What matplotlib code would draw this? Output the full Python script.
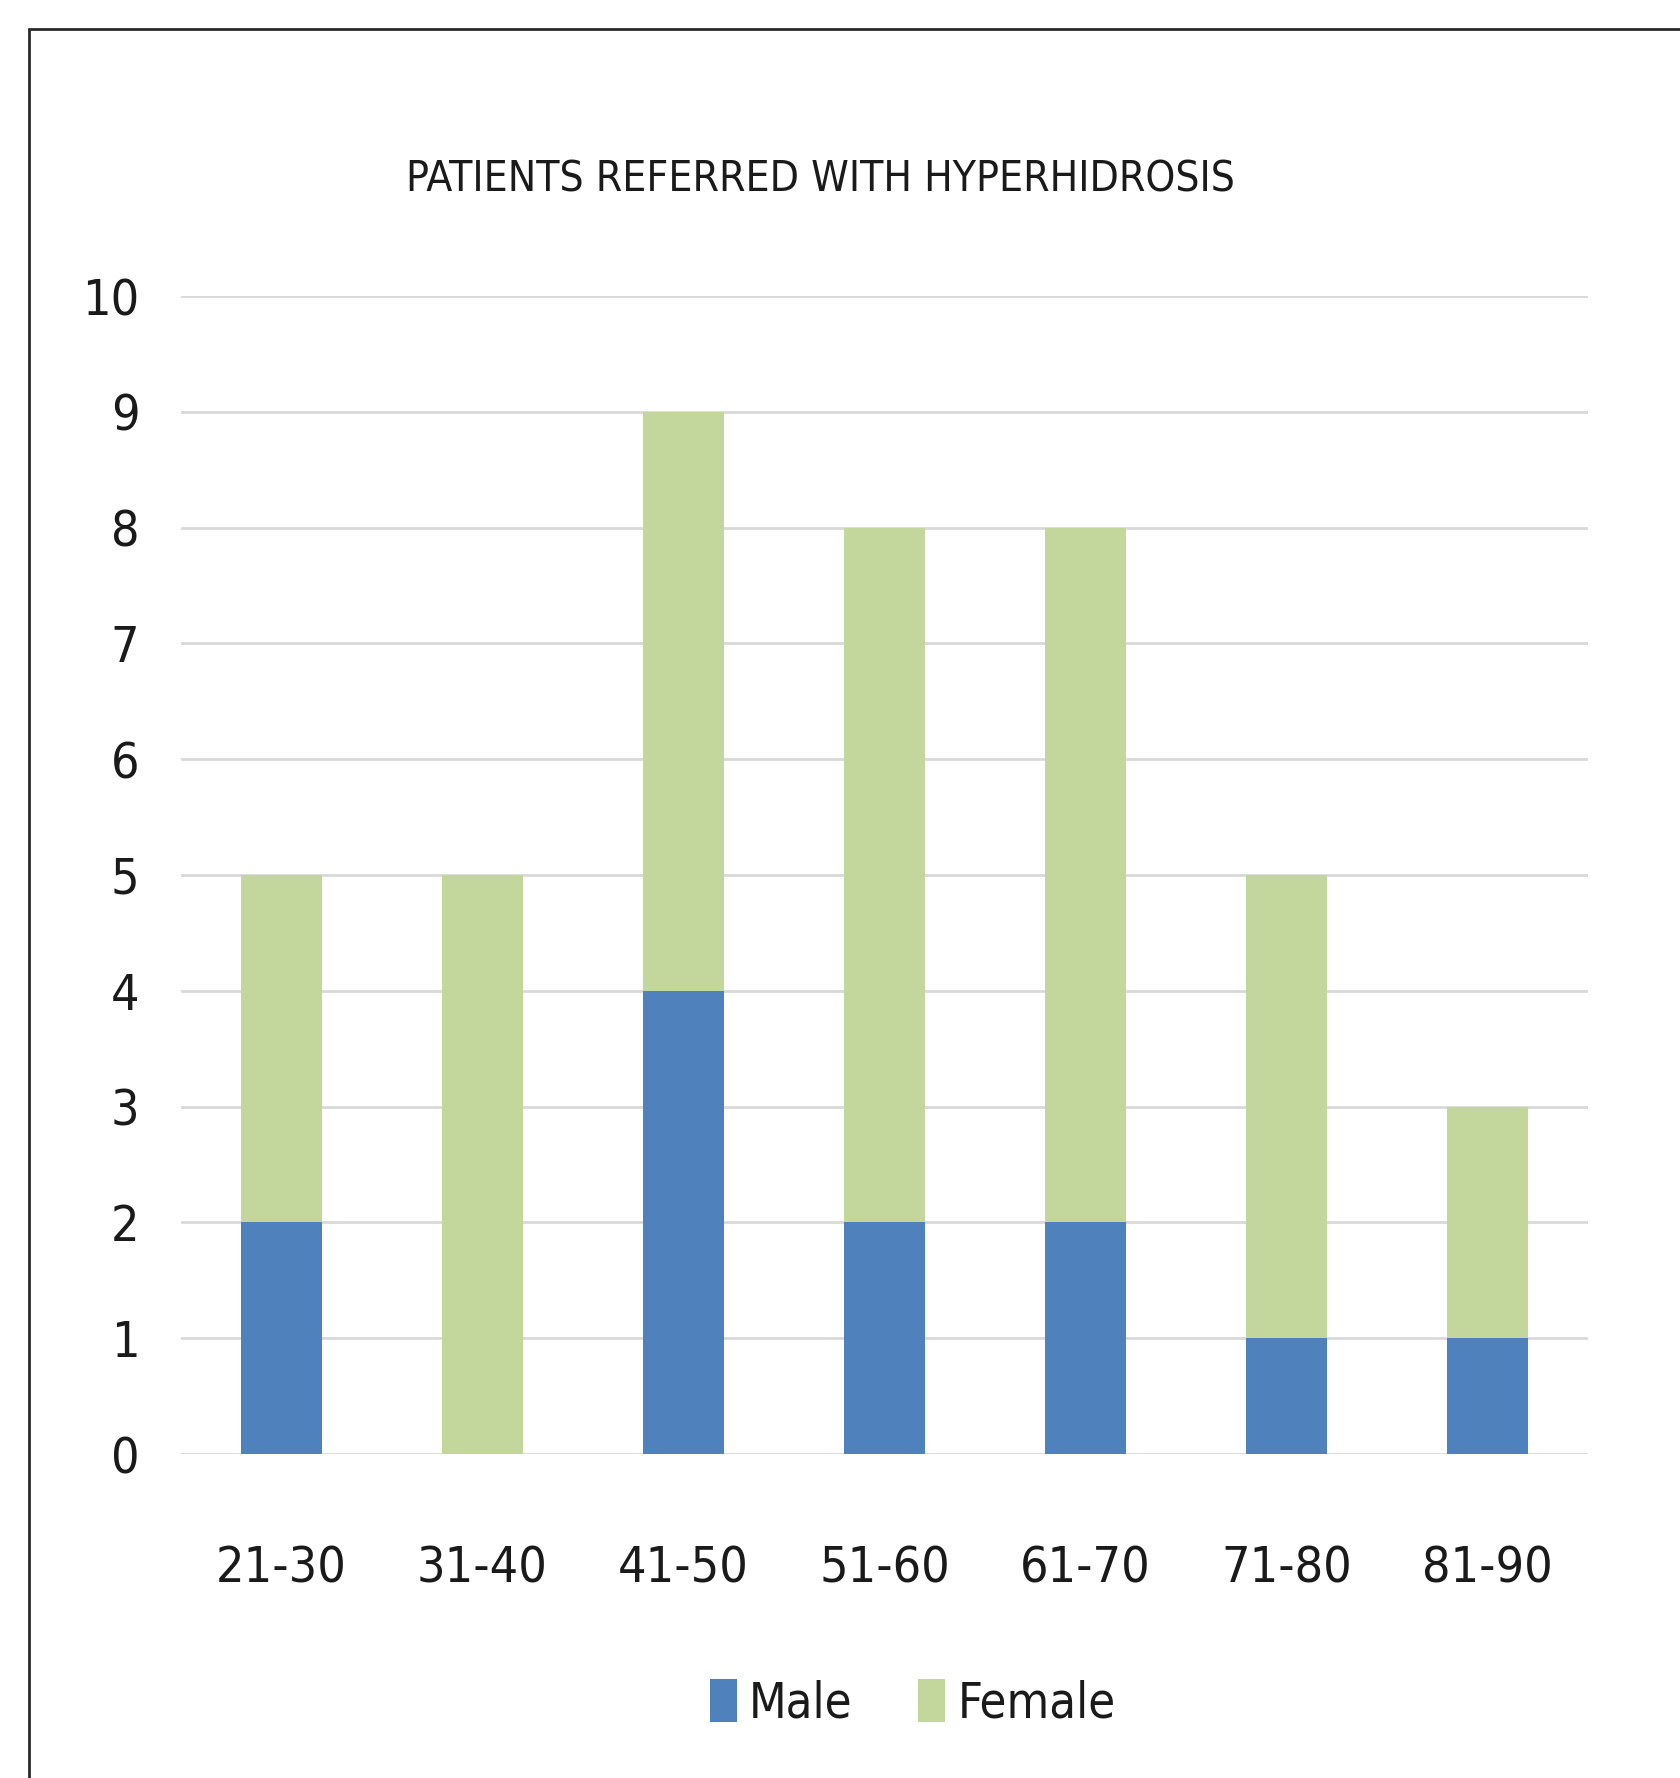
import matplotlib
matplotlib.use('Agg')
import numpy as np
import matplotlib.pyplot as plt
from matplotlib import font_manager
from matplotlib.patches import Rectangle

# Patients referred with hyperhidrosis, by age band
age_groups = ['21-30', '31-40', '41-50', '51-60', '61-70', '71-80', '81-90']
male = [2, 0, 4, 2, 2, 1, 1]
female = [3, 5, 5, 6, 6, 4, 2]
y_ticks = list(range(0, 11))

MALE_COLOR = '#4F81BD'
FEMALE_COLOR = '#C3D69B'
GRID_COLOR = '#D9D9D9'
TEXT_COLOR = '#1A1A1A'

# the original uses a tall condensed face; take the narrowest one installed
installed = {f.name for f in font_manager.fontManager.ttflist}
if 'Liberation Sans Narrow' in installed:
    FONT = dict(family='Liberation Sans Narrow')
else:
    FONT = dict(family='DejaVu Sans', stretch='condensed')
plt.rcParams['font.family'] = FONT['family']
if 'stretch' in FONT:
    plt.rcParams['font.stretch'] = FONT['stretch']

W, H = 1680, 1778
fig = plt.figure(figsize=(W / 100, H / 100), dpi=100)

# outer frame (runs off the right and bottom edges, like the scan)
fig.add_artist(Rectangle((29 / W, -0.2), 1.5, 1 - 29 / H + 0.2,
                         transform=fig.transFigure, fill=False,
                         edgecolor='#2B2B2B', linewidth=2.0, clip_on=False))

ax = fig.add_axes([181 / W, 1 - 1454 / H, (1588 - 181) / W, (1454 - 296) / H])
x = np.arange(len(age_groups))
ax.bar(x, male, width=0.4, color=MALE_COLOR, label='Male', zorder=3)
ax.bar(x, female, width=0.4, bottom=male, color=FEMALE_COLOR,
       label='Female', zorder=3)

ax.set_xlim(-0.5, len(age_groups) - 0.5)
ax.set_ylim(0, 10)
ax.set_yticks(y_ticks)
ax.set_xticks(x)
ax.set_xticklabels(age_groups)
ax.yaxis.grid(True, color=GRID_COLOR, linewidth=2.0, zorder=0)
ax.set_axisbelow(True)
for s in ax.spines.values():
    s.set_visible(False)
ax.tick_params(axis='both', length=0, labelsize=36, colors=TEXT_COLOR)
ax.tick_params(axis='y', pad=30)
ax.tick_params(axis='x', pad=65)

fig.text(820 / W, 1 - 180 / H, 'PATIENTS REFERRED WITH HYPERHIDROSIS',
         ha='center', va='center', fontsize=30.5, color=TEXT_COLOR)

fig.legend(loc='center', bbox_to_anchor=(913 / W, 1 - 1703 / H), ncol=2,
           frameon=False, fontsize=35, handlelength=0.55, handleheight=1.0,
           handletextpad=0.25, columnspacing=1.35, labelcolor=TEXT_COLOR)

fig.savefig('out.png', dpi=100, facecolor='white')
